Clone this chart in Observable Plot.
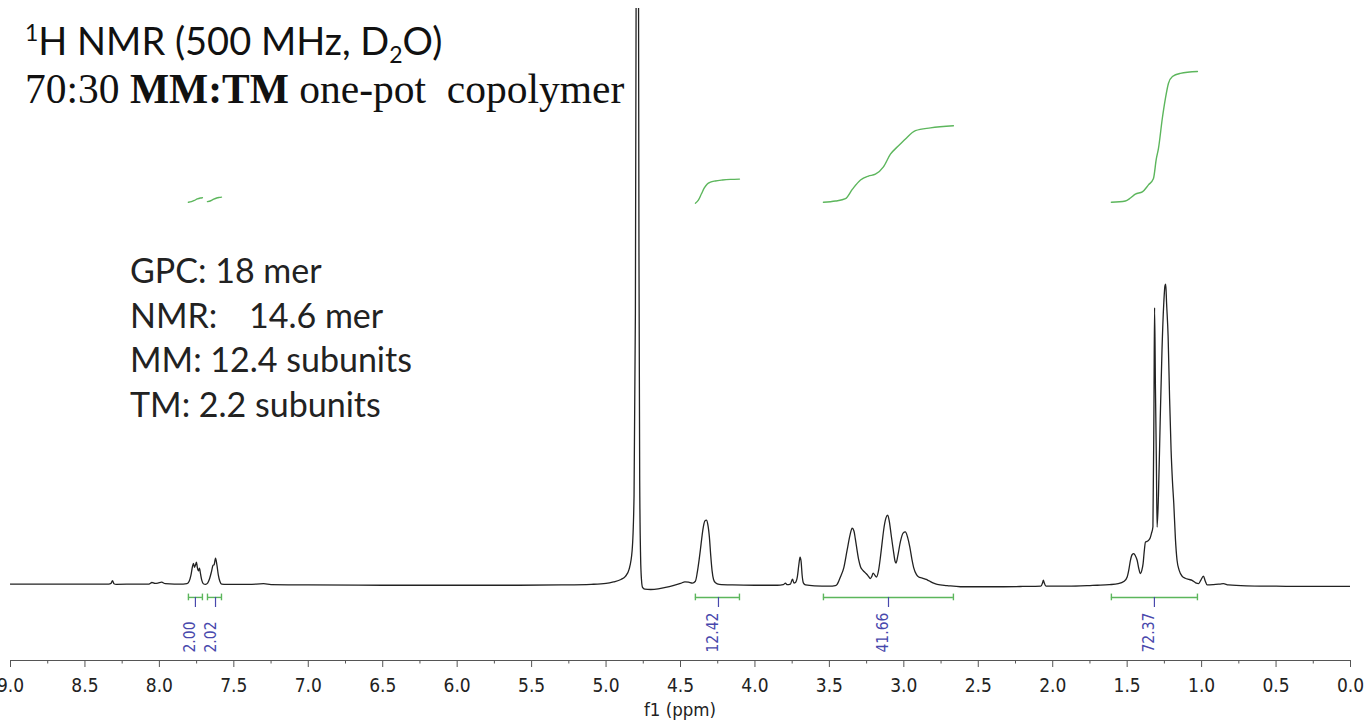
<!DOCTYPE html>
<html><head><meta charset="utf-8">
<script src="https://cdn.jsdelivr.net/npm/d3@7"></script>
<script src="https://cdn.jsdelivr.net/npm/@observablehq/plot@0.6"></script>
<style>
html,body{margin:0;padding:0;background:#fff;overflow:hidden}
#wrap{position:relative;width:1371px;height:725px}
#wrap svg{position:absolute;left:0;top:0}
</style></head><body><div id="wrap"></div>
<script>
// ---- spectrum trace: [ppm, intensity (arb. units, tallest CH3 peak ~100)] ----
const spectrum = [
[9.00,1.1],[8.80,1.1],[8.60,1.1],[8.40,1.1],[8.34,1.1],[8.325,1.3],[8.315,2.2],[8.305,1.2],[8.29,1.0],[8.15,1.1],
[8.07,1.1],[8.05,1.6],[8.03,1.3],[8.01,1.4],[7.985,1.7],[7.96,1.2],[7.90,1.1],[7.84,1.1],[7.815,1.2],[7.80,2.0],
[7.788,4.0],[7.778,6.8],[7.771,7.9],[7.764,6.6],[7.757,7.4],[7.751,8.3],[7.745,6.5],[7.738,5.4],[7.731,6.3],[7.724,4.5],
[7.715,2.3],[7.705,1.2],[7.69,1.0],[7.675,1.5],[7.662,3.0],[7.650,5.2],[7.640,7.2],[7.632,7.5],[7.623,9.6],[7.614,7.5],
[7.604,4.0],[7.594,2.0],[7.582,1.1],[7.55,1.0],[7.40,1.0],[7.30,1.2],[7.25,0.9],[7.00,0.8],[6.50,0.7],[6.00,0.7],
[5.60,0.7],[5.30,0.8],[5.10,1.0],[5.00,1.3],[4.95,1.8],[4.90,2.6],[4.87,3.6],[4.845,6],[4.825,12],[4.812,30],
[4.803,90],[4.797,220],[4.790,420],[4.784,260],[4.779,110],[4.774,35],[4.768,10],[4.762,2.5],[4.755,0.0],[4.74,-0.6],
[4.70,-0.7],[4.65,-0.5],[4.60,0.0],[4.55,0.6],[4.50,1.3],[4.47,1.8],[4.446,1.7],[4.42,1.4],[4.40,2.0],[4.387,5],
[4.375,9],[4.366,12.5],[4.355,17],[4.346,20],[4.336,21.8],[4.326,22.1],[4.317,20.8],[4.306,16.5],[4.297,10.5],[4.288,5.5],
[4.278,2.6],[4.265,1.5],[4.24,1.0],[4.15,0.8],[4.00,0.7],[3.85,0.7],[3.81,0.9],[3.795,1.4],[3.785,0.9],[3.762,1.1],
[3.748,2.7],[3.738,1.4],[3.728,1.6],[3.715,3.5],[3.705,7.5],[3.697,9.9],[3.690,8.5],[3.683,4.0],[3.674,1.4],[3.66,0.8],
[3.60,0.5],[3.50,0.4],[3.46,0.6],[3.448,1.0],[3.426,3.4],[3.403,6.5],[3.381,12.2],[3.36,17.5],[3.347,19.4],[3.335,18.5],
[3.326,16.0],[3.315,12.5],[3.303,9.0],[3.291,6.8],[3.275,5.6],[3.255,4.6],[3.240,3.8],[3.225,2.9],[3.215,3.6],[3.206,4.7],
[3.195,4.0],[3.184,3.4],[3.17,5.5],[3.157,10.0],[3.145,15.0],[3.135,19.0],[3.120,22.8],[3.108,23.7],[3.097,21.5],[3.085,17.2],
[3.070,12.0],[3.058,8.4],[3.052,8.0],[3.040,10.5],[3.023,15.0],[3.005,17.8],[2.990,18.2],[2.975,16.5],[2.960,13.3],[2.945,9.0],
[2.934,6.5],[2.915,4.2],[2.900,3.4],[2.880,3.1],[2.867,2.9],[2.850,2.6],[2.833,2.2],[2.80,1.4],[2.776,1.0],[2.709,0.6],
[2.62,0.2],[2.40,0.2],[2.20,0.3],[2.08,0.4],[2.068,1.5],[2.063,2.4],[2.057,1.5],[2.045,0.4],[1.90,0.4],[1.75,0.6],
[1.70,0.7],[1.62,0.9],[1.56,1.2],[1.52,2.0],[1.50,3.4],[1.488,6.0],[1.478,8.9],[1.466,10.8],[1.456,11.1],[1.445,10.4],
[1.433,8.9],[1.421,6.0],[1.411,4.5],[1.402,5.5],[1.393,7.8],[1.385,12.0],[1.377,14.9],[1.366,15.1],[1.355,15.5],[1.345,16.3],
[1.337,17.7],[1.327,19.9],[1.320,60],[1.316,91.8],[1.310,65],[1.304,42],[1.299,19.8],[1.290,30],[1.278,55],[1.266,78],
[1.254,93.4],[1.246,99],[1.241,99.5],[1.235,93],[1.225,82.4],[1.215,62],[1.205,45],[1.196,35],[1.187,27.6],[1.176,16],
[1.165,8.9],[1.150,5.5],[1.130,3.6],[1.110,3.0],[1.085,2.6],[1.064,2.3],[1.040,1.5],[1.020,1.25],[1.005,2.4],[0.988,3.7],
[0.975,2.0],[0.963,0.8],[0.92,0.9],[0.875,1.1],[0.854,1.2],[0.82,0.8],[0.70,0.5],[0.50,0.4],[0.30,0.3],[0.00,0.3]
];

// ---- integral curves: [ppm, running integral level] ----
const integralCurve1 = [[7.805,126.4],[7.785,126.6],[7.765,127.0],[7.745,127.5],[7.725,127.8],[7.711,127.9]];
const integralCurve2 = [[7.677,126.6],[7.655,126.9],[7.635,127.4],[7.615,127.8],[7.595,128.0],[7.583,128.1]];
const integralCurve3 = [[4.400,126.1],[4.380,127.1],[4.360,129.1],[4.340,131.1],[4.320,132.4],[4.299,133.0],[4.266,133.4],[4.218,133.7],[4.164,133.9],[4.104,134.0]];
const integralCurve4 = [[3.540,126.4],[3.459,126.8],[3.392,127.6],[3.345,130.7],[3.291,133.7],[3.238,135.0],[3.191,135.6],[3.137,138.0],[3.090,142.2],[3.043,144.6],[2.989,147.2],[2.922,149.9],[2.821,150.8],[2.667,151.5]];
const integralCurve5 = [[1.606,126.4],[1.512,126.8],[1.478,127.8],[1.445,129.1],[1.398,129.8],[1.357,132.1],[1.324,134.1],[1.304,140.7],[1.290,144.0],[1.264,153.9],[1.243,160.5],[1.223,165.4],[1.196,167.7],[1.143,168.7],[1.028,169.3]];

// ---- integral regions ----
const integralValues = [2.00, 2.02, 12.42, 41.66, 72.37];
const integralFrom   = [7.805, 7.677, 4.400, 3.540, 1.606];
const integralTo     = [7.711, 7.583, 4.104, 2.667, 1.028];
const integralCenter = [7.758, 7.623, 4.245, 3.103, 1.317];

// ---- axis ticks & texts ----
const majorTicks = d3.range(0, 19).map(i => i * 0.5);
const minorTicks = d3.range(0, 18).map(i => i * 0.5 + 0.25);
const xLabel = "f1 (ppm)";
const noteLines = ["GPC: 18 mer", "NMR:", "MM: 12.4 subunits", "TM: 2.2 subunits"];
const nmrValue = "14.6 mer";

const integrals = integralValues.map((v, i) => ({value: v, from: integralFrom[i], to: integralTo[i], center: integralCenter[i]}));
const curves = [integralCurve1, integralCurve2, integralCurve3, integralCurve4, integralCurve5]
  .flatMap((c, k) => c.map(([ppm, level]) => ({id: k, ppm, level})));
const spec = spectrum.map(([ppm, intensity]) => ({ppm, intensity}));

const GREEN = "#5cb65c", BLUE = "#4848ac", AXISFONT = "'DejaVu Sans Condensed', 'DejaVu Sans', sans-serif";
const SANS = "Lato, 'Open Sans', sans-serif";

const plot = Plot.plot({
  width: 1371, height: 725,
  marginTop: 8, marginBottom: 65, marginLeft: 10, marginRight: 21,
  x: {domain: [9, 0]},
  y: {domain: [-24, 190], axis: null},
  style: {background: "transparent", fontFamily: AXISFONT},
  marks: [
    Plot.ruleY([-24], {x1: 9, x2: 0, stroke: "#555", strokeWidth: 1.2}),
    Plot.axisX({ticks: majorTicks, tickSize: 7, tickPadding: 11, tickFormat: d3.format(".1f"),
      fontSize: 19, fontFamily: AXISFONT, color: "#222", stroke: "#555", label: null}),
    Plot.axisX({ticks: minorTicks, tickSize: 3.5, tickFormat: () => "", stroke: "#555", label: null}),
    Plot.line(spec, {x: "ppm", y: "intensity", stroke: "#222", strokeWidth: 1.3, curve: "monotone-x", clip: true}),
    Plot.line(curves, {x: "ppm", y: "level", z: "id", stroke: GREEN, strokeWidth: 1.4, curve: "monotone-x"}),
    Plot.ruleY(integrals, {y: -3.3, x1: "from", x2: "to", stroke: GREEN, strokeWidth: 1.4}),
    Plot.ruleX(integrals, {x: "from", y1: -2.2, y2: -4.4, stroke: GREEN, strokeWidth: 1.4}),
    Plot.ruleX(integrals, {x: "to", y1: -2.2, y2: -4.4, stroke: GREEN, strokeWidth: 1.4}),
    Plot.ruleX(integrals, {x: "center", y1: -3.3, y2: -6.6, stroke: BLUE, strokeWidth: 1.2}),
    Plot.text(integrals, {x: "center", text: d => d.value.toFixed(2), frameAnchor: "bottom", dy: -8,
      rotate: -90, textAnchor: "start", fill: BLUE, fontSize: 15.5, fontFamily: AXISFONT})
  ]
});
document.getElementById("wrap").appendChild(plot);

// ---- text overlay (titles and notes) ----
const ov = d3.create("svg").attr("width", 1371).attr("height", 725).style("pointer-events", "none");
const t1 = ov.append("text").attr("x", 25).attr("y", 55).attr("font-family", SANS).attr("font-size", 38).attr("fill", "#111");
t1.append("tspan").attr("dy", -14).attr("font-size", 23).text("1");
t1.append("tspan").attr("dy", 14).text("H NMR (500 MHz, D");
t1.append("tspan").attr("dy", 8).attr("font-size", 23).text("2");
t1.append("tspan").attr("dy", -8).text("O)");
const t2 = ov.append("text").attr("x", 25).attr("y", 103).attr("font-family", "'Liberation Serif', 'Times New Roman', serif").attr("font-size", 41.5).attr("fill", "#111").style("white-space", "pre");
t2.append("tspan").text("70:30 ");
t2.append("tspan").attr("font-weight", "bold").text("MM:TM");
t2.append("tspan").text(" one-pot  copolymer");
const notes = ov.append("g").attr("font-family", SANS).attr("font-size", 34).attr("fill", "#222");
notes.selectAll("text.k").data(noteLines).join("text").attr("class", "k")
  .attr("x", 130).attr("y", (d, i) => 283 + i * 44.5).text(d => d);
notes.append("text").attr("x", 249).attr("y", 283 + 44.5).text(nmrValue);
ov.append("text").attr("x", 680).attr("y", 716).attr("text-anchor", "middle")
  .attr("font-family", AXISFONT).attr("font-size", 18.5).attr("fill", "#222").text(xLabel);
document.getElementById("wrap").appendChild(ov.node());
</script></body></html>
